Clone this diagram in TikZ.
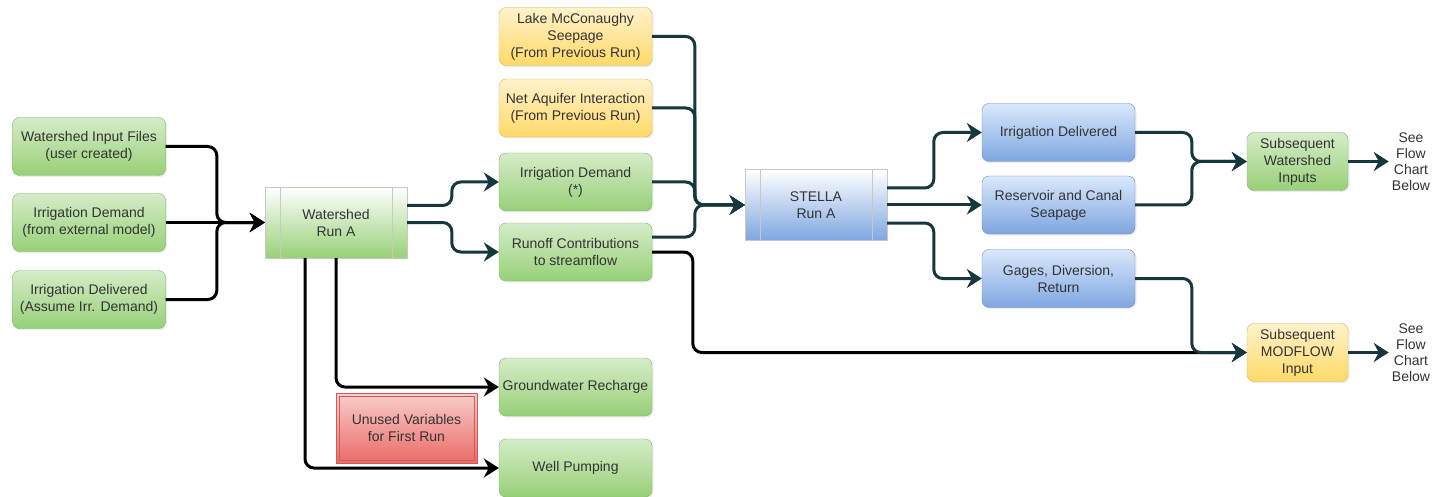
\documentclass[tikz,border=0pt]{standalone}
\usepackage{fontspec}
\setmainfont{Liberation Sans}
\usetikzlibrary{positioning,arrows.meta,shadows}

\definecolor{txtc}{HTML}{333333}
\definecolor{linkc}{RGB}{22,55,62}
\definecolor{grnt}{HTML}{D5ECC8}
\definecolor{grnb}{HTML}{97D077}
\definecolor{grnd}{HTML}{82B366}
\definecolor{ylwt}{HTML}{FFF2CC}
\definecolor{ylwb}{HTML}{FFD966}
\definecolor{ylwd}{HTML}{D6B656}
\definecolor{blut}{HTML}{DAE8FC}
\definecolor{blub}{HTML}{7EA6E0}
\definecolor{blud}{HTML}{6C8EBF}
\definecolor{redt}{HTML}{F8CECC}
\definecolor{redb}{HTML}{EA6B66}
\definecolor{redd}{HTML}{D05A58}
\definecolor{procd}{HTML}{C8C8C8}

\tikzset{
  box/.style={rounded corners=7pt, align=center, inner sep=2pt, text=txtc,
    font=\fontsize{14}{17}\selectfont, minimum width=153pt, minimum height=58pt,
    drop shadow={opacity=0.15, shadow xshift=1.5pt, shadow yshift=-1.5pt}},
  gbox/.style={box, draw=grnd, top color=grnt, bottom color=grnb},
  ybox/.style={box, draw=ylwd, top color=ylwt, bottom color=ylwb},
  bbox/.style={box, draw=blud, top color=blut, bottom color=blub},
  rbox/.style={draw=redd, top color=redt, bottom color=redb, align=center, text=txtc,
    font=\fontsize{14}{17}\selectfont, minimum width=141pt, minimum height=70pt,
    path picture={\draw[redd] ([shift={(3pt,-3pt)}]path picture bounding box.north west)
      rectangle ([shift={(-3pt,3pt)}]path picture bounding box.south east);}},
  proc/.style={draw=procd, align=center, text=txtc, font=\fontsize{14}{17}\selectfont,
    minimum width=142pt, minimum height=71pt, top color=white,
    path picture={
      \draw[procd] ([xshift=15pt]path picture bounding box.north west) -- ([xshift=15pt]path picture bounding box.south west);
      \draw[procd] ([xshift=-15pt]path picture bounding box.north east) -- ([xshift=-15pt]path picture bounding box.south east);}},
  gproc/.style={proc, bottom color=grnb},
  bproc/.style={proc, bottom color=blub},
  seetxt/.style={align=center, text=txtc, font=\fontsize{14}{16}\selectfont, inner sep=3pt},
  blk/.style={->, draw=black, line width=3pt, rounded corners=9pt},
  lnk/.style={->, draw=linkc, line width=3pt, rounded corners=9pt}
}

\begin{document}
\begin{tikzpicture}[x=1pt, y=-1pt, on grid, >={Stealth[length=15pt,width=19pt,inset=5pt]}]
	\useasboundingbox (0,0) rectangle (1437,497);

	% watershed inputs
	\node[gbox](wif) at (89,146.5){Watershed Input Files\\(user created)};
	\node[gbox](idx)[below=76pt of wif]{Irrigation Demand\\(from external model)};
	\node[gbox](idel)[below=77pt of idx]{Irrigation Delivered\\(Assume Irr. Demand)};
	\node[gproc](wsa)[right=247pt of idx]{Watershed\\Run A};

	% stella inputs
	\node[ybox](lake) at (575.5,36.5){Lake McConaughy\\Seepage\\(From Previous Run)};
	\node[ybox](net)[below=71.5pt of lake]{Net Aquifer Interaction\\(From Previous Run)};
	\node[gbox](idem)[below=74pt of net]{Irrigation Demand\\(*)};
	\node[gbox](runoff)[below=70pt of idem]{Runoff Contributions\\to streamflow};
	\node[gbox](gwr)[below=135pt of runoff]{Groundwater Recharge};
	\node[gbox](well)[below=81pt of gwr]{Well Pumping};
	\node[rbox](unused) at (406.5,428){Unused Variables\\for First Run};

	% stella outputs
	\node[bproc](stella) at (816,205){STELLA\\Run A};
	\node[bbox](res)[right=242.5pt of stella]{Reservoir and Canal\\Seapage};
	\node[bbox](irdel)[above=72.5pt of res]{Irrigation Delivered};
	\node[bbox](gages)[below=73.5pt of res]{Gages, Diversion,\\Return};
	\node[gbox, minimum width=101pt](subw) at (1297.5,161.5){Subsequent\\Watershed\\Inputs};
	\node[ybox, minimum width=101pt](modf)[below=191pt of subw]{Subsequent\\MODFLOW\\Input};
	\node[seetxt](see1)[right=113.5pt of subw]{See\\Flow\\Chart\\Below};
	\node[seetxt](see2)[right=113.5pt of modf]{See\\Flow\\Chart\\Below};

	% into watershed
	\draw[blk](wif.east) -| ([xshift=-48pt]wsa.west) -- (wsa.west);
	\draw[blk](idx.east) -- (wsa.west);
	\draw[blk](idel.east) -| ([xshift=-48pt]wsa.west) -- (wsa.west);
	\draw[blk]([xshift=-31pt]wsa.south) |- (well.west);
	\draw[blk](wsa.south) |- (gwr.west);
	\draw[lnk]([yshift=17pt]wsa.east) -| ([xshift=-47pt]idem.west) -- (idem.west);
	\draw[lnk](wsa.east) -| ([xshift=-47pt]runoff.west) -- (runoff.west);

	% into stella
	\foreach \n in {lake,net,idem}
		\draw[lnk](\n.east) -| ([xshift=-50pt]stella.west) -- (stella.west);
	\draw[lnk]([yshift=15pt]runoff.east) -| ([xshift=-50pt]stella.west) -- (stella.west);
	\draw[blk](runoff.east) -| ([xshift=-554pt]modf.west) -- (modf.west);

	% out of stella
	\draw[lnk]([yshift=17pt]stella.east) -| ([xshift=-48pt]irdel.west) -- (irdel.west);
	\draw[lnk](stella.east) -- (res.west);
	\draw[lnk]([yshift=-18pt]stella.east) -| ([xshift=-48pt]gages.west) -- (gages.west);
	\draw[lnk](irdel.east) -| ([xshift=-55pt]subw.west) -- (subw.west);
	\draw[lnk](res.east) -| ([xshift=-55pt]subw.west) -- (subw.west);
	\draw[lnk](gages.east) -| ([xshift=-55pt]modf.west) -- (modf.west);
	\draw[lnk](subw.east) -- (see1.west);
	\draw[lnk](modf.east) -- (see2.west);
\end{tikzpicture}
\end{document}
